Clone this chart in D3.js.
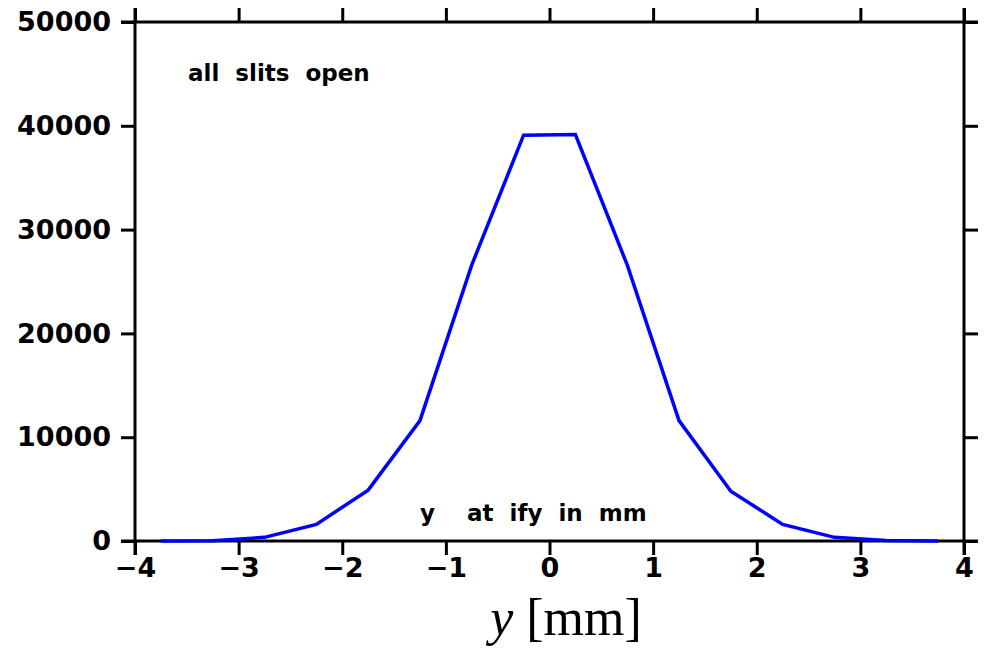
<!DOCTYPE html>
<html>
<head>
<meta charset="utf-8">
<script src="https://cdn.jsdelivr.net/npm/d3@7"></script>
<style>
  body { margin: 0; background: #fff; }
  svg { display: block; }
  .tick text { font-family: "DejaVu Sans", sans-serif; font-weight: bold; }
</style>
</head>
<body>
<svg id="chart" width="984" height="649"></svg>
<script>
// positions along y (mm) and counts
let yPos = [-3.75, -3.25, -2.75, -2.25, -1.75, -1.25, -0.75, -0.25,
            0.25, 0.75, 1.25, 1.75, 2.25, 2.75, 3.25, 3.75];
let counts = [0, 30, 350, 1600, 4900, 11600, 26600, 39100,
              39150, 26600, 11600, 4800, 1600, 350, 50, 0];
let xTicks = [-4, -3, -2, -1, 0, 1, 2, 3, 4];
let yTicks = [0, 10000, 20000, 30000, 40000, 50000];

let margin = {top: 22, right: 20, bottom: 108, left: 135};
let width = 984, height = 649;

let svg = d3.select("#chart");

let x = d3.scaleLinear()
    .domain([-4, 4])
    .range([margin.left, 964]);

let y = d3.scaleLinear()
    .domain([0, 50000])
    .range([541, margin.top]);

let tick = 14;

function styleAxis(g) {
    g.select(".domain").remove();
    g.selectAll(".tick line").attr("stroke", "#000").attr("stroke-width", 3);
    g.selectAll(".tick text").attr("fill", "#000").style("font-size", "27px");
}

// bottom axis
svg.append("g")
    .attr("transform", `translate(0, ${y(0)})`)
    .call(d3.axisBottom(x).tickValues(xTicks).tickSize(tick).tickPadding(3)
        .tickFormat(d => d < 0 ? "\u2212" + Math.abs(d) : d))
    .call(styleAxis);

// top axis
svg.append("g")
    .attr("transform", `translate(0, ${y(50000)})`)
    .call(d3.axisTop(x).tickValues(xTicks).tickSize(tick).tickFormat(""))
    .call(styleAxis);

// left axis
svg.append("g")
    .attr("transform", `translate(${x(-4)}, 0)`)
    .call(d3.axisLeft(y).tickValues(yTicks).tickSize(tick).tickPadding(10)
        .tickFormat(d3.format("d")))
    .call(styleAxis);

// right axis
svg.append("g")
    .attr("transform", `translate(${x(4)}, 0)`)
    .call(d3.axisRight(y).tickValues(yTicks).tickSize(tick).tickFormat(""))
    .call(styleAxis);

// frame lines, extended by the tick length past the corners
let frame = svg.append("g").attr("stroke", "#000").attr("stroke-width", 3);
frame.append("line").attr("x1", x(-4) - tick).attr("x2", x(4) + tick)
    .attr("y1", y(0)).attr("y2", y(0));
frame.append("line").attr("x1", x(-4) - tick).attr("x2", x(4) + tick)
    .attr("y1", y(50000)).attr("y2", y(50000));
frame.append("line").attr("x1", x(-4)).attr("x2", x(-4))
    .attr("y1", y(50000) - tick).attr("y2", y(0) + tick);
frame.append("line").attr("x1", x(4)).attr("x2", x(4))
    .attr("y1", y(50000) - tick).attr("y2", y(0) + tick);

// profile
let line = d3.line()
    .x((d, i) => x(yPos[i]))
    .y(d => y(d));

svg.append("path")
    .datum(counts)
    .attr("fill", "none")
    .attr("stroke", "#0000ff")
    .attr("stroke-width", 3.5)
    .attr("stroke-linejoin", "miter")
    .attr("d", line);

// annotations
svg.append("text")
    .attr("x", 188).attr("y", 81)
    .style("font-family", "DejaVu Sans, sans-serif")
    .style("font-weight", "bold")
    .style("font-size", "23px")
    .style("white-space", "pre")
    .text("all  slits  open");

svg.append("text")
    .attr("x", 420).attr("y", 521)
    .style("font-family", "DejaVu Sans, sans-serif")
    .style("font-weight", "bold")
    .style("font-size", "23px")
    .style("white-space", "pre")
    .text("y    at  ify  in  mm");

let xl = svg.append("text")
    .attr("x", 566).attr("y", 635)
    .attr("text-anchor", "middle")
    .style("font-family", "Liberation Serif, serif")
    .style("font-size", "52px");
xl.append("tspan").style("font-style", "italic").text("y");
xl.append("tspan").text(" [mm]");
</script>
</body>
</html>
